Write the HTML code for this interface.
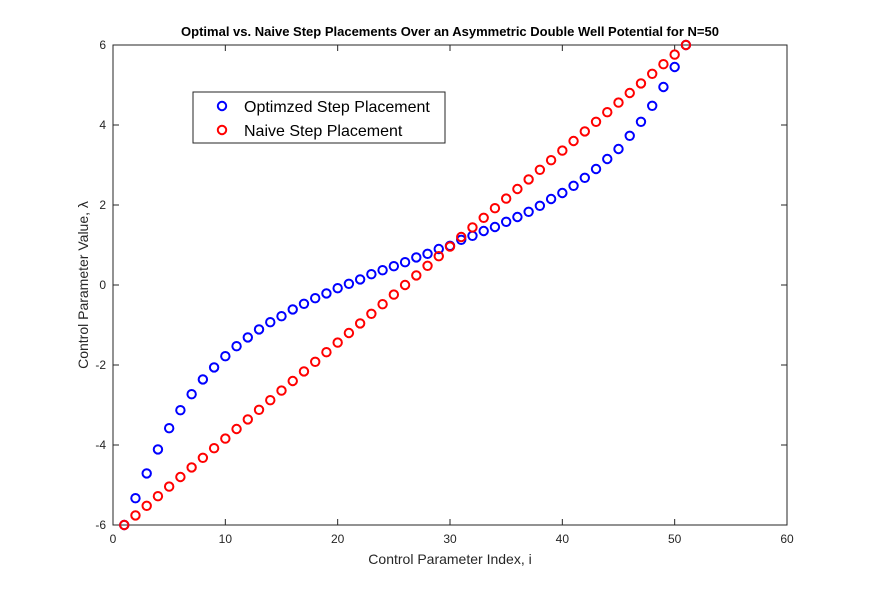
<!DOCTYPE html>
<html><head><meta charset="utf-8"><style>
body{margin:0;background:#fff}
svg text{font-family:"Liberation Sans",Arial,sans-serif}
</style></head><body>
<svg id="chart" width="870" height="590">
<rect width="870" height="590" fill="#fff"/>
<text x="450" y="36" text-anchor="middle" font-size="13" font-weight="bold">Optimal vs. Naive Step Placements Over an Asymmetric Double Well Potential for N=50</text>
<rect x="113" y="45" width="674" height="480" fill="none" stroke="#262626" stroke-width="1"/>
<g id="ticks"></g>
<g id="marks"></g>
<text x="450" y="564" text-anchor="middle" font-size="14" fill="#262626">Control Parameter Index, i</text>
<text transform="translate(88,285) rotate(-90)" text-anchor="middle" font-size="14" fill="#262626">Control Parameter Value, λ</text>
<g>
<rect x="193" y="92" width="252" height="51" fill="#fff" stroke="#262626"/>
<circle cx="222" cy="106" r="4.2" fill="none" stroke="#0000ff" stroke-width="2"/>
<text x="244" y="112" font-size="16">Optimzed Step Placement</text>
<circle cx="222" cy="130" r="4.2" fill="none" stroke="#ff0000" stroke-width="2"/>
<text x="244" y="136" font-size="16">Naive Step Placement</text>
</g>
</svg>
<script>
const xTicks=[0,10,20,30,40,50,60];
const yTicks=[-6,-4,-2,0,2,4,6];
const optimized=[-6,-5.33,-4.71,-4.11,-3.58,-3.13,-2.73,-2.36,-2.06,-1.78,-1.53,-1.31,-1.11,-0.93,-0.78,-0.61,-0.47,-0.33,-0.21,-0.08,0.03,0.14,0.27,0.37,0.47,0.57,0.69,0.78,0.9,0.98,1.13,1.23,1.35,1.45,1.58,1.7,1.83,1.98,2.15,2.3,2.48,2.68,2.9,3.15,3.4,3.73,4.08,4.48,4.95,5.45,6];
const naive=[-6,-5.76,-5.52,-5.28,-5.04,-4.8,-4.56,-4.32,-4.08,-3.84,-3.6,-3.36,-3.12,-2.88,-2.64,-2.4,-2.16,-1.92,-1.68,-1.44,-1.2,-0.96,-0.72,-0.48,-0.24,0,0.24,0.48,0.72,0.96,1.2,1.44,1.68,1.92,2.16,2.4,2.64,2.88,3.12,3.36,3.6,3.84,4.08,4.32,4.56,4.8,5.04,5.28,5.52,5.76,6];
const NS="http://www.w3.org/2000/svg";
const X=v=>113+(v-0)/60*674;
const Y=v=>525-(v+6)/12*480;
const tg=document.getElementById('ticks'),mg=document.getElementById('marks');
function mk(t,a,p){const e=document.createElementNS(NS,t);for(const k in a)e.setAttribute(k,a[k]);p.appendChild(e);return e;}
xTicks.forEach(t=>{
 const l=mk('line',{x1:X(t),x2:X(t),y1:525,y2:519,stroke:'#262626'},tg);
 
 
 const l2=mk('line',{x1:X(t),x2:X(t),y1:45,y2:51,stroke:'#262626'},tg);
 
 
 const s=mk('text',{x:X(t),y:543,'text-anchor':'middle','font-size':12,fill:'#262626'},tg);s.textContent=t;
 
 
});
yTicks.forEach(t=>{
 const l=mk('line',{x1:113,x2:119,y1:Y(t),y2:Y(t),stroke:'#262626'},tg);
 
 
 const l2=mk('line',{x1:781,x2:787,y1:Y(t),y2:Y(t),stroke:'#262626'},tg);
 
 
 const s=mk('text',{x:106,y:Y(t)+4,'text-anchor':'end','font-size':12,fill:'#262626'},tg);s.textContent=t;
 
 
});
optimized.forEach((v,i)=>{
 const c=mk('circle',{cx:X(i+1),cy:Y(v),r:4.2,fill:'none',stroke:'#0000ff','stroke-width':2},mg);
 
 
});
naive.forEach((v,i)=>{
 const c=mk('circle',{cx:X(i+1),cy:Y(v),r:4.2,fill:'none',stroke:'#ff0000','stroke-width':2},mg);
 
 
});
</script>
</body></html>
